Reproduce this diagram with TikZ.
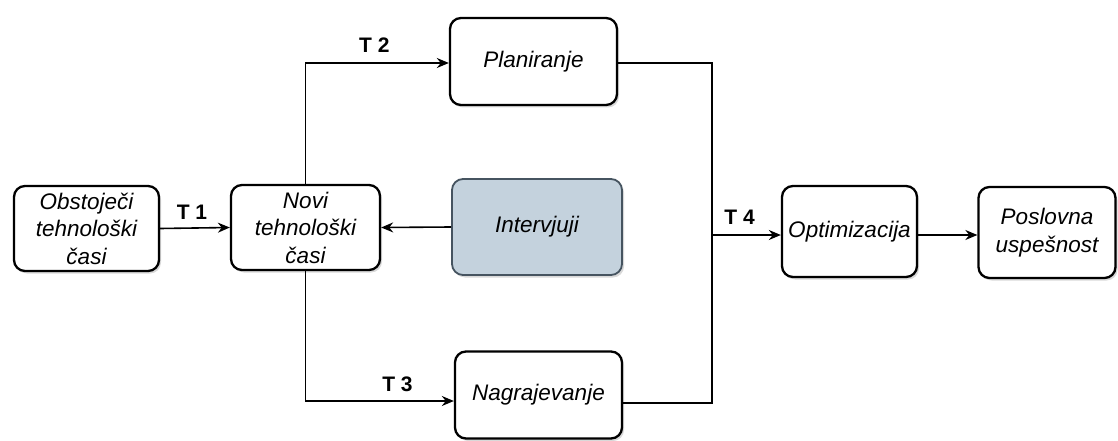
\documentclass[tikz,border=0pt]{standalone}
\usepackage{fontspec}
\setmainfont{Liberation Sans}
\usetikzlibrary{arrows.meta,shadows}
\definecolor{intfill}{RGB}{196,210,221}
\definecolor{intdraw}{RGB}{70,84,96}
\begin{document}
\begin{tikzpicture}[x=1pt,y=-1pt,
  box/.style={draw=black, line width=2.3pt, rounded corners=11pt, fill=white,
    align=center, inner sep=0pt,
    font=\fontsize{22.5}{27.5}\selectfont\itshape,
    drop shadow={shadow xshift=2pt, shadow yshift=-2.5pt, opacity=0.3}},
  wire/.style={line width=1.6pt},
  conn/.style={wire, -{Stealth[length=12pt,width=10pt]}},
  tlab/.style={font=\fontsize{21}{21}\selectfont\bfseries, inner sep=0pt}]
\useasboundingbox (0,0) rectangle (1118,441);

% boxes
\node[box, minimum width=145pt, minimum height=85pt] (obst) at (86.5,228.5)
  {Obstoječi\\tehnološki\\časi};
\node[box, minimum width=149pt, minimum height=85pt] (novi) at (305.5,227.5)
  {Novi\\tehnološki\\časi};
\node[box, fill=intfill, draw=intdraw, line width=1.8pt,
  minimum width=170pt, minimum height=96pt] (interv) at (537,227) {Intervjuji};
\node[box, minimum width=167pt, minimum height=87pt] (plan) at (533.5,61.5) {Planiranje};
\node[box, minimum width=167pt, minimum height=87pt] (nagr) at (538.5,395) {Nagrajevanje};
\node[box, minimum width=135pt, minimum height=91pt] (opt) at (849.5,231.5) {Optimizacija};
\node[box, minimum width=137pt, minimum height=91pt] (posl) at (1047,232.5)
  {Poslovna\\uspešnost};

% junction points
\coordinate (top) at (novi.center |- 0,63);
\coordinate (bot) at (novi.center |- 0,401);
\coordinate (jr) at (712,63);
\coordinate (jb) at (712,403);
\coordinate (jm) at (712,235);

% connectors
\draw[conn] (obst.east) -- (novi.west) node[tlab, midway, above=8pt, xshift=-3pt] {T 1};
\draw[conn] (interv.west) -- (novi.east);
\draw[conn] (novi.north) -- (top) -- (plan.west |- top)
  node[tlab, pos=0.48, above=10pt] {T 2};
\draw[conn] (novi.south) -- (bot) -- (nagr.west |- bot)
  node[tlab, pos=0.62, above=8pt] {T 3};
\draw[wire] (plan.east |- jr) -- (jr) -- (jb) -- (nagr.east |- jb);
\draw[conn] (jm) -- (opt.west |- jm) node[tlab, pos=0.4, above=10pt] {T 4};
\draw[conn] (opt.east |- jm) -- (posl.west |- jm);
\end{tikzpicture}
\end{document}
